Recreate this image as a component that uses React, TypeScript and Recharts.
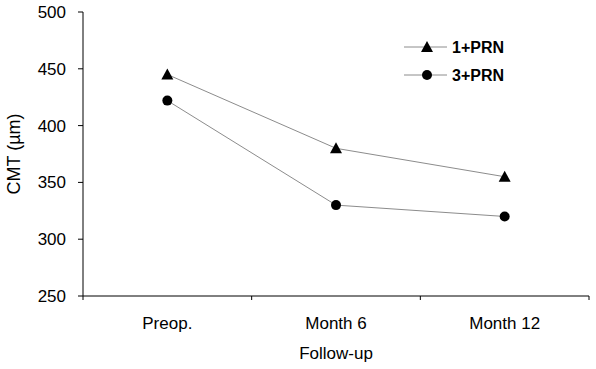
import { LineChart, Line, XAxis, YAxis, Label } from "recharts";

const categories = ["Preop.", "Month 6", "Month 12"];
const onePrn = [445, 380, 355];
const threePrn = [422, 330, 320];
const yTicks = [250, 300, 350, 400, 450, 500];

const data = categories.map((c, i) => ({ x: i + 0.5, name: c, one: onePrn[i], three: threePrn[i] }));
const xTicks = [0, 0.5, 1, 1.5, 2, 2.5, 3];

const font = "'Liberation Sans', Arial, sans-serif";

function Triangle(props: any) {
  const { cx, cy, key } = props;
  if (cx == null || cy == null) return null;
  return <polygon key={key} points={`${cx},${cy - 6} ${cx - 6},${cy + 5} ${cx + 6},${cy + 5}`} fill="#000" />;
}

function Circle(props: any) {
  const { cx, cy, key } = props;
  if (cx == null || cy == null) return null;
  return <circle key={key} cx={cx} cy={cy} r={5} fill="#000" />;
}

function XTick(props: any) {
  const { x, y, payload } = props;
  const v = payload.value;
  if (Number.isInteger(v)) {
    return <line x1={x} y1={y} x2={x} y2={y + 4} stroke="#000" />;
  }
  const idx = Math.floor(v);
  return (
    <text x={x} y={y + 33} textAnchor="middle" fontSize={17} fontFamily={font} fill="#000">
      {categories[idx]}
    </text>
  );
}

function LegendBox() {
  return (
    <svg width={130} height={60} style={{ position: "absolute", left: 400, top: 30 }}>
      <line x1={4} y1={17} x2={47} y2={17} stroke="#8c8c8c" />
      <Triangle cx={27} cy={17} />
      <text x={52} y={23} fontSize={16} fontWeight="bold" fontFamily={font} fill="#000">1+PRN</text>
      <line x1={4} y1={45} x2={47} y2={45} stroke="#8c8c8c" />
      <Circle cx={27} cy={45} />
      <text x={52} y={51} fontSize={16} fontWeight="bold" fontFamily={font} fill="#000">3+PRN</text>
    </svg>
  );
}

export default function App() {
  return (
    <div style={{ position: "absolute", left: 0, top: 0, width: 596, height: 369, background: "#fff" }}>
      <LineChart width={596} height={369} data={data} margin={{ top: 12, right: 7, bottom: 0, left: 0 }}>
        <XAxis
          type="number"
          dataKey="x"
          domain={[0, 3]}
          ticks={xTicks}
          interval={0}
          tick={<XTick />}
          tickLine={false}
          tickSize={0}
          tickMargin={0}
          height={73}
          axisLine={{ stroke: "#000" }}
        >
          <Label value="Follow-up" position="insideBottom" offset={10} fontSize={17} fontFamily={font} fill="#000" />
        </XAxis>
        <YAxis
          domain={[250, 500]}
          ticks={yTicks}
          width={83}
          tickSize={5}
          tickMargin={12}
          tick={{ fontSize: 17, fontFamily: font, fill: "#000" }}
          tickLine={{ stroke: "#000" }}
          axisLine={{ stroke: "#000" }}
        >
          <Label
            value="CMT (µm)"
            angle={-90}
            position="insideLeft"
            offset={14}
            fontSize={18}
            fontFamily={font}
            fill="#000"
            style={{ textAnchor: "middle" }}
          />
        </YAxis>
        <Line dataKey="one" stroke="#8c8c8c" strokeWidth={1} dot={<Triangle />} isAnimationActive={false} />
        <Line dataKey="three" stroke="#8c8c8c" strokeWidth={1} dot={<Circle />} isAnimationActive={false} />
      </LineChart>
      <LegendBox />
    </div>
  );
}
